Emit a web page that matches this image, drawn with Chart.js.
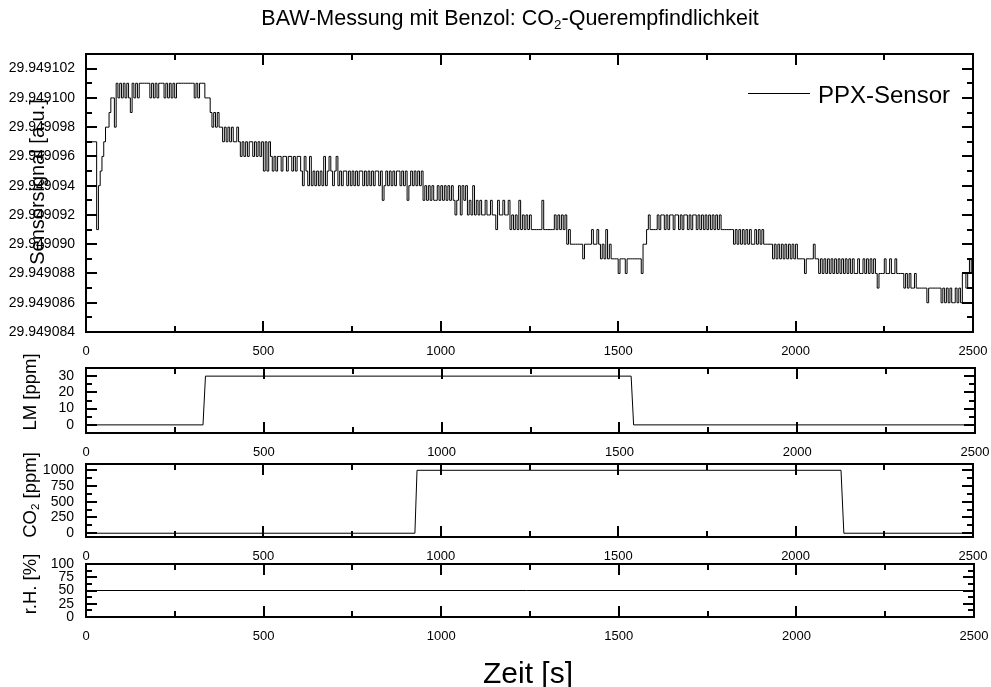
<!DOCTYPE html>
<html>
<head>
<meta charset="utf-8">
<script src="https://cdn.jsdelivr.net/npm/chart.js@4"></script>
<style>
  body { margin: 0; width: 991px; height: 687px; overflow: hidden; background: #fff;
         font-family: Arial, "Liberation Sans", sans-serif; color: #000; }
  canvas { position: absolute; left: 0; top: 0; }
  .txt { position: absolute; white-space: nowrap; line-height: 1; }
  .rot { transform: translate(-50%, -50%) rotate(-90deg); }
  sub { font-size: 0.62em; vertical-align: -0.28em; line-height: 0; }
</style>
</head>
<body>
<canvas id="p1" width="991" height="687"></canvas>
<canvas id="p2" width="991" height="687"></canvas>
<canvas id="p3" width="991" height="687"></canvas>
<canvas id="p4" width="991" height="687"></canvas>

<div class="txt" style="left:510px; top:8px; font-size:21.5px; transform:translateX(-50%)">BAW-Messung mit Benzol: CO<sub>2</sub>-Querempfindlichkeit</div>
<div class="txt" style="left:528px; top:658px; font-size:30px; transform:translateX(-50%)">Zeit [s]</div>
<div style="position:absolute; left:748px; top:93px; width:62px; height:1px; background:#000"></div>
<div class="txt" style="left:818px; top:83px; font-size:24px">PPX-Sensor</div>

<div class="txt rot" style="left:37px; top:182px; font-size:20px">Sensorsignal [a.u.]</div>
<div class="txt rot" style="left:30px; top:392px; font-size:18.5px">LM [ppm]</div>
<div class="txt rot" style="left:30px; top:495px; font-size:18.5px">CO<sub>2</sub> [ppm]</div>
<div class="txt rot" style="left:30px; top:584px; font-size:18.5px">r.H. [%]</div>

<script>
// sensor signal, one sample every 5 s; value = 29.949 + level * 1e-6
const sensorStep = 5;
const sensorLevel = [
  97,97,97,97,97,97,91,94,95,96,  97,98,98,99,100,100,98,101,100,101,
  100,101,100,101,100,99,101,100,101,100,  101,101,101,101,101,101,100,101,100,101,
  100,101,101,101,100,101,100,101,100,101,  100,101,101,101,101,101,101,101,101,101,
  101,100,101,100,101,101,101,100,100,100,  99,98,99,98,99,98,98,97,98,97,
  98,97,98,97,97,98,97,96,97,96,  97,96,97,97,96,97,96,97,96,97,
  95,97,95,97,96,95,96,95,96,96,  95,96,96,95,96,96,95,96,95,96,
  96,95,94,96,95,94,96,94,95,94,  95,94,95,94,96,94,95,96,95,94,
  95,96,94,95,94,95,95,94,95,94,  95,94,95,94,95,95,94,95,94,95,
  94,95,94,95,95,94,95,93,94,95,  94,95,94,95,94,95,95,94,95,94,
  95,93,94,95,94,95,94,95,94,95,  93,94,93,94,93,94,93,93,94,93,
  94,93,94,93,94,93,94,93,92,93,  94,92,94,93,94,92,93,92,94,92,
  93,92,93,92,92,93,92,92,93,92,  92,91,93,92,92,93,92,92,93,91,
  92,91,92,91,93,91,92,91,92,91,  92,91,91,91,91,91,91,93,91,91,
  91,91,91,91,92,91,92,91,92,91,  92,90,91,90,90,90,90,90,90,90,
  89,90,90,90,90,91,90,90,91,90,  89,90,89,91,89,90,89,89,89,89,
  88,89,89,89,88,89,89,89,89,89,  89,89,89,88,90,90,91,92,91,91,
  91,91,92,91,92,92,91,92,91,92,  92,91,92,92,91,92,91,92,92,91,
  92,91,92,92,91,92,91,92,91,92,  91,92,91,92,91,92,91,92,91,91,
  91,91,91,91,91,90,91,90,91,90,  91,90,91,90,91,90,90,91,90,91,
  90,91,90,90,90,90,90,89,90,89,  90,89,90,89,90,89,90,89,90,89,
  90,89,89,89,89,88,89,89,89,89,  90,89,89,88,89,88,89,88,89,88,
  89,88,89,88,89,88,89,88,89,88,  89,88,89,88,88,89,88,88,89,88,
  89,88,89,88,89,88,87,88,88,88,  89,88,88,89,88,88,89,88,88,88,
  88,87,88,87,88,87,87,88,87,87,  87,87,87,87,86,87,87,87,87,87,
  87,87,86,87,86,87,86,87,86,86,  87,86,87,86,88,88,87,88,89,88,
  88
];

const lmTime = [0, 329, 336, 1533, 1540, 2500];
const lmValue = [0, 0, 30, 30, 0, 0];
const co2Time = [0, 927, 933, 2128, 2136, 2500];
const co2Value = [0, 0, 1000, 1000, 0, 0];
const rhTime = [0, 2482];
const rhValue = [50, 50];

const timeTicks = [0, 500, 1000, 1500, 2000, 2500];
const sensorTicks = [84, 86, 88, 90, 92, 94, 96, 98, 100, 102];
const lmTicks = [0, 10, 20, 30];
const co2Ticks = [0, 250, 500, 750, 1000];
const rhTicks = [0, 25, 50, 75, 100];

const FONT = 'Arial, "Liberation Sans", sans-serif';

// box + inward ticks on all four sides, minor ticks halfway between labels
const frame = {
  id: 'frame',
  afterDatasetsDraw(chart) {
    const { ctx, chartArea: a, scales } = chart;
    ctx.save();
    ctx.strokeStyle = '#000';
    ctx.lineWidth = 2;
    ctx.beginPath();
    const marks = (scale, horiz) => {
      const vals = scale.ticks.map(t => t.value);
      vals.forEach((v, i) => {
        const list = [[v, 11]];
        if (i < vals.length - 1) list.push([(v + vals[i + 1]) / 2, 6]);
        list.forEach(([val, len]) => {
          const p = Math.round(scale.getPixelForValue(val));
          if (horiz) {
            ctx.moveTo(p, a.bottom); ctx.lineTo(p, a.bottom - len);
            ctx.moveTo(p, a.top); ctx.lineTo(p, a.top + len);
          } else {
            ctx.moveTo(a.left, p); ctx.lineTo(a.left + len, p);
            ctx.moveTo(a.right, p); ctx.lineTo(a.right - len, p);
          }
        });
      });
    };
    marks(scales.x, true);
    marks(scales.y, false);
    ctx.stroke();
    ctx.strokeRect(a.left, a.top, a.right - a.left, a.bottom - a.top);
    ctx.restore();
  }
};

// fixed axis sizes so the plot box lands exactly where the layout padding says
const fixX = s => { s.height = 30; s.paddingLeft = 0; s.paddingRight = 0; };
const fixY = s => { s.width = 86; s.paddingTop = 0; s.paddingBottom = 0; };

function panel(id, box, points, y, stepped) {
  return new Chart(document.getElementById(id), {
    type: 'line',
    data: {
      datasets: [{ data: points, borderColor: '#000', borderWidth: 1, pointRadius: 0, tension: 0,
                   fill: false, stepped: !!stepped }]
    },
    options: {
      responsive: false,
      animation: false,
      devicePixelRatio: 1,
      layout: { padding: { left: 0, top: box.top, right: 991 - box.right, bottom: 687 - box.bottom - 30 } },
      plugins: { legend: { display: false }, tooltip: { enabled: false } },
      scales: {
        x: {
          type: 'linear', min: 0, max: 2500,
          grid: { display: false, drawTicks: false }, border: { display: false },
          afterBuildTicks: s => { s.ticks = timeTicks.map(v => ({ value: v })); },
          afterFit: fixX,
          ticks: { padding: 12, color: '#000', font: { family: FONT, size: 13 }, maxRotation: 0, autoSkip: false,
                   callback: v => String(v) }
        },
        y: {
          type: 'linear', min: y.min, max: y.max,
          grid: { display: false, drawTicks: false }, border: { display: false },
          afterBuildTicks: s => { s.ticks = y.ticks.map(v => ({ value: v })); },
          afterFit: fixY,
          ticks: { padding: y.pad, color: '#000', font: { family: FONT, size: 14 }, autoSkip: false,
                   callback: y.fmt || (v => String(v)) }
        }
      }
    },
    plugins: [frame]
  });
}

const zip = (t, v) => t.map((x, i) => ({ x, y: v[i] }));

panel('p1', { top: 54, bottom: 332, right: 973 },
  sensorLevel.map((v, i) => ({ x: i * sensorStep, y: v })),
  { min: 84, max: 103, ticks: sensorTicks, pad: 11, fmt: v => '29.949' + String(v).padStart(3, '0') }, true);
panel('p2', { top: 368, bottom: 433, right: 975 }, zip(lmTime, lmValue),
  { min: -5, max: 35, ticks: lmTicks, pad: 12 });
panel('p3', { top: 464, bottom: 537, right: 973 }, zip(co2Time, co2Value),
  { min: -60, max: 1100, ticks: co2Ticks, pad: 12 });
panel('p4', { top: 564, bottom: 617, right: 974 }, zip(rhTime, rhValue),
  { min: 0, max: 100, ticks: rhTicks, pad: 12 });
</script>
</body>
</html>
